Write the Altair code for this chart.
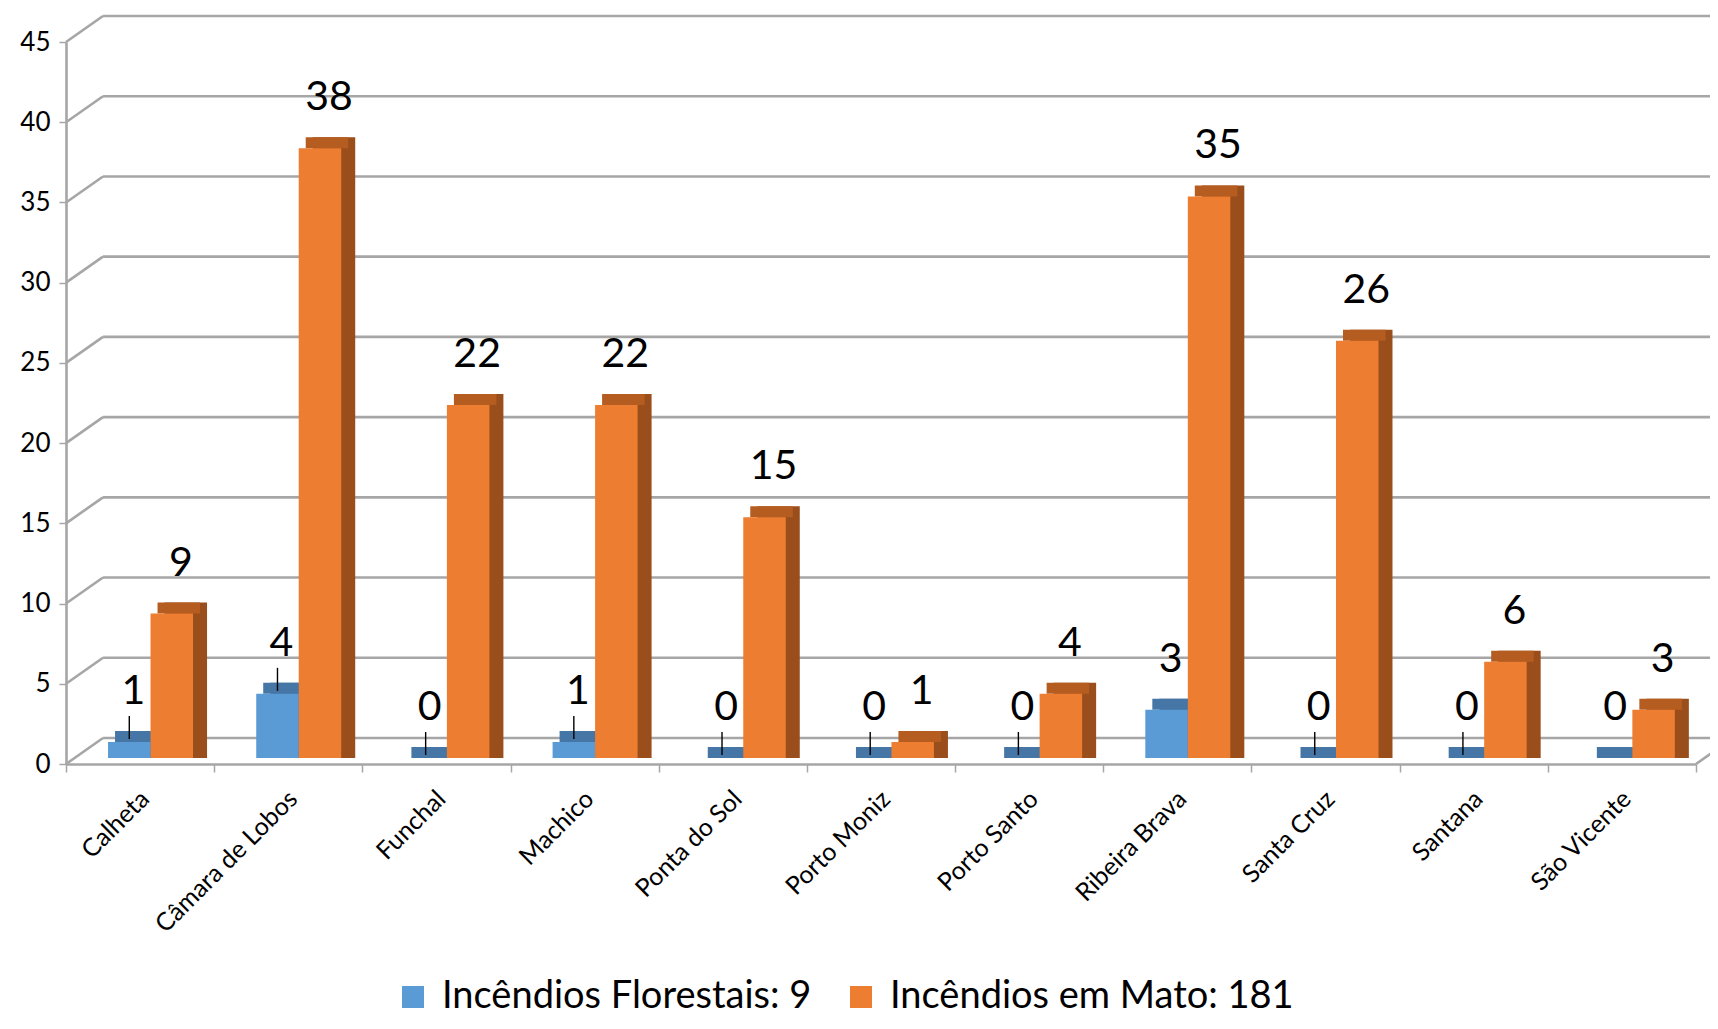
import altair as alt
import pandas as pd

municipios = ["Calheta", "Câmara de Lobos", "Funchal", "Machico", "Ponta do Sol",
              "Porto Moniz", "Porto Santo", "Ribeira Brava", "Santa Cruz", "Santana", "São Vicente"]
florestais = [1, 4, 0, 1, 0, 0, 0, 3, 0, 0, 0]
mato = [9, 38, 22, 22, 15, 1, 4, 35, 26, 6, 3]
serie_nomes = ["Incêndios Florestais", "Incêndios em Mato"]
y_ticks = [0, 5, 10, 15, 20, 25, 30, 35, 40, 45]
blue_leader = [True, True, True, True, True, True, True, False, True, True, False]

W, H = 1630, 722
FONT = "Lato"
GRID = "#A6A6A6"

lab_f = f"{serie_nomes[0]}: {sum(florestais)}"
lab_m = f"{serie_nomes[1]}: {sum(mato)}"
series = [lab_f, lab_m]

rows = []
for i, m in enumerate(municipios):
    rows.append(dict(municipio=m, serie=lab_f, valor=florestais[i], leader=blue_leader[i], k=0))
    rows.append(dict(municipio=m, serie=lab_m, valor=mato[i], leader=False, k=1))
df = pd.DataFrame(rows)
grid = pd.DataFrame({"v": y_ticks})

y_scale = alt.Scale(domain=[0, 45], nice=False, zero=True)
x_scale = alt.Scale(paddingInner=0, paddingOuter=0)

X_AXIS = alt.Axis(title=None, labelAngle=-45, labelFont=FONT, labelFontSize=25, labelColor="black",
                  labelPadding=14, labelOffset=-4, labelLimit=400, tickBand="extent", tickSize=8,
                  tickColor=GRID, tickWidth=1.5, domainColor=GRID, domainWidth=2.6, grid=False)
Y_AXIS = alt.Axis(title=None, values=y_ticks, grid=False, labelFont=FONT, labelFontSize=26,
                  labelColor="black", labelPadding=9, tickSize=7, tickColor=GRID,
                  tickWidth=1.5, domainColor=GRID, domainWidth=2.6)

BW = 42.5                 # bar width (px)
CENTER = [-10.8, 31.7]    # bar centre offset from band centre, per series
LIFT = -6                 # bars sit slightly above the front floor line
DX, DY = 14, -11          # bar depth
FRONT = ["#5B9BD5", "#ED7D31"]
SIDE = ["#41719C", "#9A4E1B"]
TOPC = ["#4676A6", "#B55D20"]
LBL_DX = [4, 9]


def xenc():
    return alt.X("municipio:N", sort=municipios, scale=x_scale, axis=X_AXIS)


def yenc(field="valor:Q"):
    return alt.Y(field, scale=y_scale, axis=Y_AXIS)


# back wall grid lines
back = alt.Chart(grid).mark_rule(color=GRID, strokeWidth=2.6, yOffset=-26).encode(
    y=yenc("v:Q"), x=alt.value(37), x2=alt.value(W + 40),
)
# slanted connectors on the left wall
conn = alt.Chart(grid).mark_rule(color=GRID, strokeWidth=2.6, y2Offset=-26).encode(
    y=yenc("v:Q"), y2="v:Q", x=alt.value(0), x2=alt.value(37),
)
# floor slant on the right
floor = alt.Chart(grid).transform_filter("datum.v == 0").mark_rule(
    color=GRID, strokeWidth=2.6, y2Offset=-26).encode(
    y=yenc("v:Q"), y2="v:Q", x=alt.value(W), x2=alt.value(W + 37),
)

layers = [back, conn, floor]
for k in (0, 1):
    base = alt.Chart(df).transform_filter(f"datum.k == {k}")
    side = base.mark_bar(width=BW, color=SIDE[k], xOffset=CENTER[k] + DX,
                         yOffset=LIFT + DY, y2Offset=LIFT).encode(
        x=xenc(), y=yenc(), y2=alt.datum(0))
    top = base.mark_bar(width=BW, color=TOPC[k], xOffset=CENTER[k] + DX / 2,
                        yOffset=LIFT + DY, y2Offset=LIFT).encode(
        x=xenc(), y=yenc(), y2="valor:Q")
    front = base.mark_bar(width=BW, xOffset=CENTER[k], yOffset=LIFT, y2Offset=LIFT).encode(
        x=xenc(), y=yenc(), y2=alt.datum(0),
        color=alt.Color("serie:N", scale=alt.Scale(domain=series, range=FRONT),
                        legend=alt.Legend(title=None, orient="none", legendX=328, legendY=936,
                                          direction="horizontal", symbolType="square",
                                          symbolSize=484, symbolStrokeWidth=0, labelFont=FONT,
                                          labelFontSize=38, labelColor="black", labelOffset=10,
                                          columnPadding=30, labelLimit=800)),
    )
    layers += [side, top, front]

leaders = alt.Chart(df).transform_filter("datum.leader").mark_rule(
    color="black", strokeWidth=1.4, xOffset=CENTER[0], yOffset=LIFT - 3, y2Offset=LIFT - 26).encode(
    x=xenc(), y=yenc(), y2="valor:Q",
)
layers.append(leaders)

for k in (0, 1):
    lab = alt.Chart(df).transform_filter(f"datum.k == {k}").mark_text(
        font=FONT, fontSize=41, color="black", baseline="middle", dy=-56,
        xOffset=CENTER[k] + LBL_DX[k]).encode(
        x=xenc(), y=yenc(), text="valor:Q",
    )
    layers.append(lab)

chart = alt.layer(*layers).properties(
    width=W, height=H,
    autosize=alt.AutoSizeParams(type="none"),
    padding={"left": 58, "top": 34, "right": 14, "bottom": 257},
).configure(background="white").configure_view(stroke=None)

chart.save("out.html", embed_options={"renderer": "svg", "actions": False})
